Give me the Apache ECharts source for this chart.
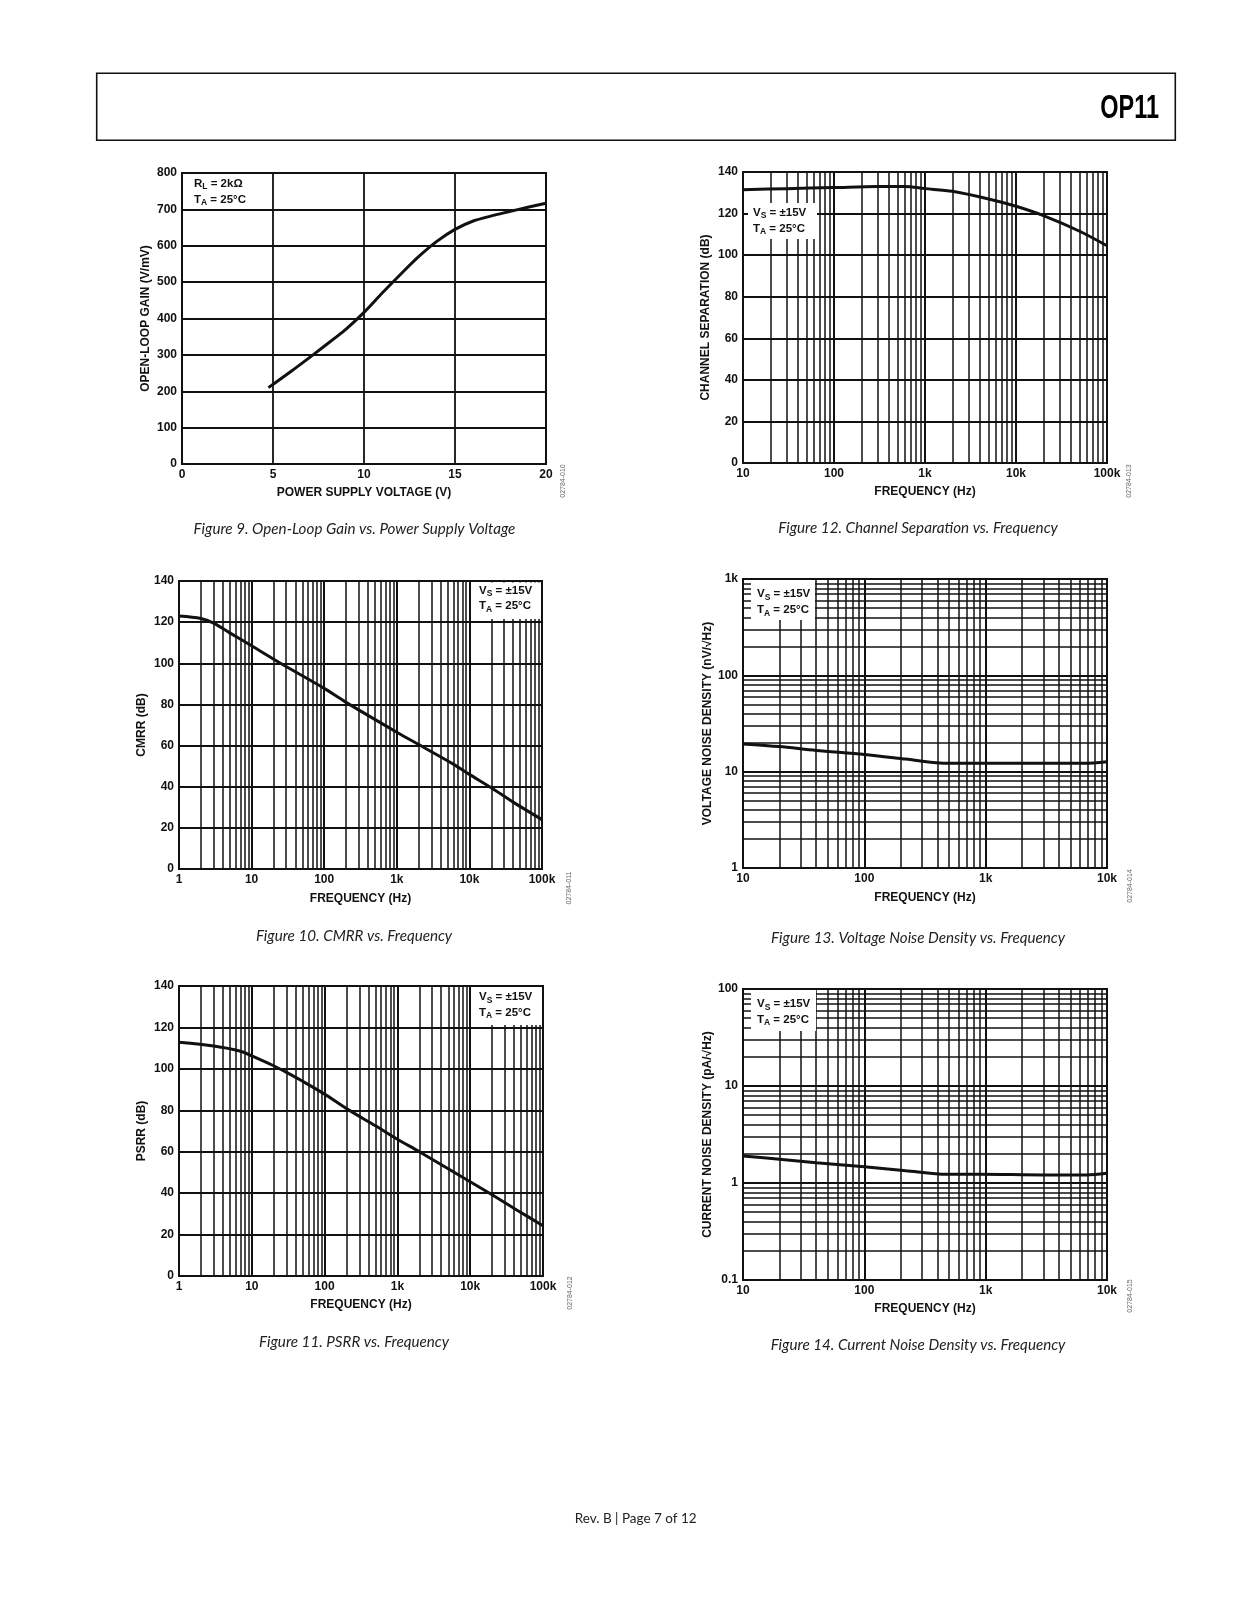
<!DOCTYPE html>
<html><head><meta charset="utf-8">
<script src="https://cdn.jsdelivr.net/npm/echarts@6/dist/echarts.min.js"></script>
<style>html,body{margin:0;padding:0;background:#fff}#c{width:1236px;height:1600px}</style>
</head><body><div id="c"></div><script>
// ---------- data ----------
// Figure 9: open-loop gain vs supply voltage
const fig9Voltage = [4.75, 6, 7.2, 8.5, 9, 10, 11, 12, 13, 14, 15, 16, 17, 18, 19, 20];
const fig9Gain    = [210, 255, 300, 350, 370, 417, 470, 521, 570, 612, 645, 668, 682, 694, 706, 717];
// Figure 12: channel separation vs frequency
const fig12Freq = [10, 30, 100, 300, 600, 1000, 2000, 5000, 10000, 20000, 50000, 100000];
const fig12Sep  = [131.5, 132, 132.5, 133, 133, 132, 130.7, 127, 123.5, 119, 111.5, 104.5];
// Figure 10: CMRR vs frequency
const fig10Freq = [1, 2, 3, 5, 10, 25, 100, 200, 1000, 2000, 6000, 10000, 20000, 40000, 100000];
const fig10Cmrr = [123, 121.8, 119.5, 114.8, 108.5, 100, 87.8, 81, 66.5, 60.5, 51, 46, 39.5, 32.5, 24];
// Figure 13: voltage noise density vs frequency
const fig13Freq  = [10, 20, 40, 100, 220, 420, 600, 1000, 3000, 6500, 10000];
const fig13Noise = [19.4, 18.2, 16.6, 15.1, 13.5, 12.3, 12.2, 12.2, 12.2, 12.2, 12.7];
// Figure 11: PSRR vs frequency
const fig11Freq = [1, 3, 7, 10, 20, 30, 50, 100, 200, 500, 1000, 2000, 10000, 20000, 43000, 100000];
const fig11Psrr = [112.8, 111, 108.5, 106.3, 101.5, 98.3, 94, 87.8, 80.8, 72.5, 66, 60, 45.5, 39.2, 32, 24.3];
// Figure 14: current noise density vs frequency
const fig14Freq  = [10, 20, 40, 100, 220, 480, 900, 3000, 6800, 10000];
const fig14Noise = [1.9, 1.76, 1.62, 1.47, 1.34, 1.23, 1.23, 1.21, 1.21, 1.26];

// tick label text
const decadeLabels = {0.1: '0.1', 1: '1', 10: '10', 100: '100', 1000: '1k', 10000: '10k', 100000: '100k'};
const captions = [
  'Figure 9. Open-Loop Gain vs. Power Supply Voltage',
  'Figure 12. Channel Separation vs. Frequency',
  'Figure 10. CMRR vs. Frequency',
  'Figure 13. Voltage Noise Density vs. Frequency',
  'Figure 11. PSRR vs. Frequency',
  'Figure 14. Current Noise Density vs. Frequency'
];
const figIds = ['02784-010', '02784-013', '02784-011', '02784-014', '02784-012', '02784-015'];

// ---------- styling / layout ----------
const FONT = 'Liberation Sans';
const INK = '#111111';
const labelStyle = {fontFamily: FONT, fontWeight: 'bold', fontSize: 12, color: INK};

function zip(a, b) { return a.map((v, i) => [v, b[i]]); }
function decadeFmt(v) {
  const r = Math.round(v * 1000) / 1000;
  return decadeLabels[r] !== undefined ? decadeLabels[r] : String(r);
}
function minorLog(lo, hi) { // 2..9 x each decade between lo and hi (gridline positions)
  const out = [];
  for (let d = lo; d < hi; d *= 10) for (let k = 2; k <= 9; k++) out.push(Math.round(d * k * 1000) / 1000);
  return out;
}

const gridBoxes = [
  {left: 182, top: 173, width: 364, height: 291},
  {left: 743, top: 172, width: 364, height: 291},
  {left: 179, top: 581, width: 363, height: 288},
  {left: 743, top: 579, width: 364, height: 289},
  {left: 179, top: 986, width: 364, height: 290},
  {left: 743, top: 989, width: 364, height: 291}
];
const grid = gridBoxes.map(g => Object.assign({show: true, borderColor: INK, borderWidth: 2, backgroundColor: '#fff'}, g));

function axisBase(i, extra) {
  return Object.assign({
    gridIndex: i,
    nameLocation: 'middle',
    nameTextStyle: {fontFamily: FONT, fontWeight: 'bold', fontSize: 12, color: INK},
    axisLine: {show: false},
    axisTick: {show: false},
    axisLabel: Object.assign({margin: 5, showMinLabel: true, showMaxLabel: true}, labelStyle),
    splitLine: {show: true, lineStyle: {color: INK, width: 1.8}}
  }, extra);
}
function logAxis(i, min, max, name, gap, extra) {
  const a = axisBase(i, Object.assign({type: 'log', logBase: 10, min: min, max: max, name: name, nameGap: gap}, extra || {}));
  a.axisLabel.formatter = decadeFmt;
  a.splitLine.lineStyle.width = 2;
  return a;
}
function linAxis(i, min, max, interval, name, gap) {
  return axisBase(i, {type: 'value', min: min, max: max, interval: interval, name: name, nameGap: gap});
}

const xAxis = [
  linAxis(0, 0, 20, 5, 'POWER SUPPLY VOLTAGE (V)', 22.5),
  logAxis(1, 10, 100000, 'FREQUENCY (Hz)', 22.5),
  logAxis(2, 1, 100000, 'FREQUENCY (Hz)', 23.5),
  logAxis(3, 10, 10000, 'FREQUENCY (Hz)', 23.5),
  logAxis(4, 1, 100000, 'FREQUENCY (Hz)', 22.5),
  logAxis(5, 10, 10000, 'FREQUENCY (Hz)', 22.5)
];
const yAxis = [
  linAxis(0, 0, 800, 100, 'OPEN-LOOP GAIN (V/mV)', 30),
  linAxis(1, 0, 140, 20, 'CHANNEL SEPARATION (dB)', 31),
  linAxis(2, 0, 140, 20, 'CMRR (dB)', 31),
  logAxis(3, 1, 1000, 'VOLTAGE NOISE DENSITY (nV/\u221AHz)', 29.5),
  linAxis(4, 0, 140, 20, 'PSRR (dB)', 31),
  logAxis(5, 0.1, 100, 'CURRENT NOISE DENSITY (pA/\u221AHz)', 29.5)
];

function minorMarks(xs, ys) {
  const data = [];
  (xs || []).forEach(v => data.push({xAxis: v}));
  (ys || []).forEach(v => data.push({yAxis: v}));
  return {
    silent: true, symbol: ['none', 'none'], animation: false,
    label: {show: false}, emphasis: {disabled: true},
    lineStyle: {color: INK, width: 1.5, type: 'solid', opacity: 1},
    data: data
  };
}
function curve(i, xs, ys, marks) {
  return {
    type: 'line', xAxisIndex: i, yAxisIndex: i, data: zip(xs, ys),
    smooth: 0.3, showSymbol: false, silent: true, z: 5,
    lineStyle: {color: INK, width: 3},
    markLine: marks
  };
}
const series = [
  curve(0, fig9Voltage, fig9Gain, undefined),
  curve(1, fig12Freq, fig12Sep, minorMarks(minorLog(10, 100000), null)),
  curve(2, fig10Freq, fig10Cmrr, minorMarks(minorLog(1, 100000), null)),
  curve(3, fig13Freq, fig13Noise, minorMarks(minorLog(10, 10000), minorLog(1, 1000))),
  curve(4, fig11Freq, fig11Psrr, minorMarks(minorLog(1, 100000), null)),
  curve(5, fig14Freq, fig14Noise, minorMarks(minorLog(10, 10000), minorLog(0.1, 100)))
];

// ---------- page text / annotations ----------
const mctx = document.createElement('canvas').getContext('2d');
function tw(text, font) { mctx.font = font; return mctx.measureText(text).width; }
const ANN = 'bold 11.5px "Liberation Sans"';
const SUB = 'bold 8.5px "Liberation Sans"';
function subText(x, yc, main, sub, rest) {
  const w1 = tw(main, ANN), w2 = tw(sub, SUB);
  const st = (t, f) => ({text: t, font: f, fill: INK, align: 'left', verticalAlign: 'middle'});
  return [
    {type: 'text', x: x, y: yc, z: 120, silent: true, style: st(main, ANN)},
    {type: 'text', x: x + w1, y: yc + 3.5, z: 120, silent: true, style: st(sub, SUB)},
    {type: 'text', x: x + w1 + w2, y: yc, z: 120, silent: true, style: st(rest, ANN)}
  ];
}
function whiteBox(x, y, w, h) {
  return {type: 'rect', z: 110, silent: true, shape: {x: x, y: y, width: w, height: h}, style: {fill: '#fff'}};
}
const capPos = [[354.5, 529], [918, 528], [354, 936], [918, 938], [354, 1342], [918, 1345]];
const idPos = [[563, 481], [1129, 481], [569, 888], [1130, 886], [570, 1293], [1130, 1296]];

const elements = [
  {type: 'rect', silent: true, shape: {x: 96.7, y: 73.3, width: 1078.6, height: 67}, style: {fill: 'none', stroke: INK, lineWidth: 1.6}},
  {type: 'text', x: 1159, y: 109, scaleX: 0.69, silent: true, style: {text: 'OP11', font: 'bold 34px "Liberation Sans"', fill: '#000', align: 'right', verticalAlign: 'middle'}},
  {type: 'text', x: 635.7, y: 1519, silent: true, style: {text: 'Rev. B | Page 7 of 12', font: '13.5px Lato', fill: '#222', align: 'center', verticalAlign: 'middle'}},
  // annotation boxes
  whiteBox(748, 203, 69, 36),
  whiteBox(472, 582.5, 69, 36.5),
  whiteBox(751, 580, 64, 40),
  whiteBox(472, 987, 70, 38),
  whiteBox(751, 990, 65, 41)
];
captions.forEach((c, i) => elements.push({type: 'text', x: capPos[i][0], y: capPos[i][1], silent: true,
  style: {text: c, font: 'italic 15.2px Lato', fill: '#222', align: 'center', verticalAlign: 'middle'}}));
figIds.forEach((c, i) => elements.push({type: 'text', x: idPos[i][0], y: idPos[i][1], rotation: Math.PI / 2, silent: true,
  style: {text: c, font: '7px "Liberation Sans"', fill: '#666', align: 'center', verticalAlign: 'middle'}}));
// Fig 9
elements.push(...subText(194, 183.5, 'R', 'L', ' = 2k\u03A9'));
elements.push(...subText(194, 199.5, 'T', 'A', ' = 25\u00B0C'));
// Fig 12
elements.push(...subText(753, 212.5, 'V', 'S', ' = \u00B115V'));
elements.push(...subText(753, 228.5, 'T', 'A', ' = 25\u00B0C'));
// Fig 10
elements.push(...subText(479, 590.5, 'V', 'S', ' = \u00B115V'));
elements.push(...subText(479, 606, 'T', 'A', ' = 25\u00B0C'));
// Fig 13
elements.push(...subText(757, 594, 'V', 'S', ' = \u00B115V'));
elements.push(...subText(757, 610, 'T', 'A', ' = 25\u00B0C'));
// Fig 11
elements.push(...subText(479, 997, 'V', 'S', ' = \u00B115V'));
elements.push(...subText(479, 1012.5, 'T', 'A', ' = 25\u00B0C'));
// Fig 14
elements.push(...subText(757, 1004, 'V', 'S', ' = \u00B115V'));
elements.push(...subText(757, 1019.5, 'T', 'A', ' = 25\u00B0C'));

const chart = echarts.init(document.getElementById('c'), null, {renderer: 'canvas', width: 1236, height: 1600});
chart.setOption({
  animation: false,
  backgroundColor: '#fff',
  grid: grid,
  xAxis: xAxis,
  yAxis: yAxis,
  series: series,
  graphic: {elements: elements}
});
</script></body></html>
